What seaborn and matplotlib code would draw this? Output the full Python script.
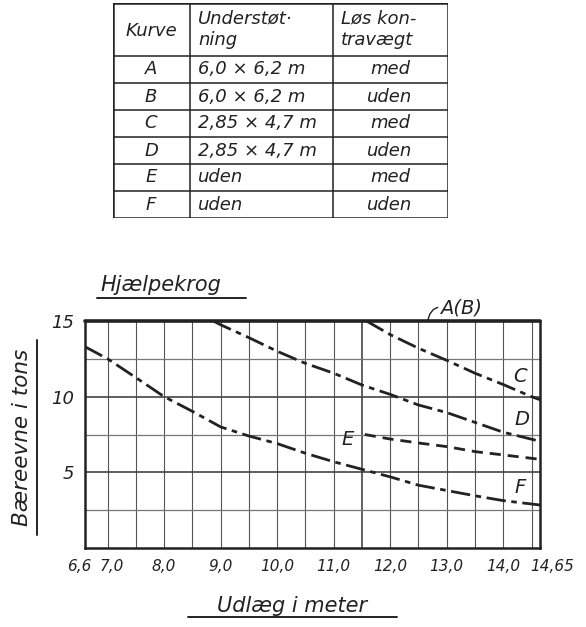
import pandas as pd
import matplotlib
matplotlib.use('Agg')
import matplotlib.pyplot as plt
import matplotlib.transforms as mtrans
import seaborn as sns
from matplotlib.lines import Line2D

# Kurver: udlæg (m) og bæreevne (t)
ab_x = [6.6, 14.65]
ab_y = [15.0, 15.0]
c_x = [11.58, 12.0, 12.5, 13.0, 13.5, 14.0, 14.5, 14.65]
c_y = [15.0, 14.1, 13.2, 12.4, 11.55, 10.8, 10.0, 9.8]
d_x = [8.87, 9.0, 9.5, 10.0, 10.5, 11.0, 11.5, 12.0, 12.5, 13.0, 13.5, 14.0, 14.65]
d_y = [15.0, 14.75, 13.9, 13.0, 12.2, 11.55, 10.77, 10.15, 9.45, 8.95, 8.3, 7.65, 7.05]
e_x = [11.55, 12.0, 12.5, 13.0, 13.5, 14.0, 14.65]
e_y = [7.5, 7.2, 6.94, 6.7, 6.37, 6.15, 5.86]
f_x = [6.6, 7.0, 7.5, 8.0, 8.5, 9.0, 9.5, 10.0, 10.5, 11.0, 11.5, 12.0, 12.5, 13.0, 13.5, 14.0, 14.65]
f_y = [13.3, 12.5, 11.26, 10.0, 9.03, 8.0, 7.4, 6.9, 6.26, 5.7, 5.2, 4.7, 4.15, 3.8, 3.45, 3.13, 2.84]

x_ticks = [6.6, 7.0, 8.0, 9.0, 10.0, 11.0, 12.0, 13.0, 14.0, 14.65]
x_labels = ['6,6', '7,0', '8,0', '9,0', '10,0', '11,0', '12,0', '13,0', '14,0', '14,65']
y_ticks = [5, 10, 15]
y_labels = ['5', '10', '15']

# Tabel
kurver = ['A', 'B', 'C', 'D', 'E', 'F']
understotning = ['6,0 × 6,2 m', '6,0 × 6,2 m', '2,85 × 4,7 m', '2,85 × 4,7 m', 'uden', 'uden']
kontravaegt = ['med', 'uden', 'med', 'uden', 'med', 'uden']

curves = {'A(B)': (ab_x, ab_y), 'C': (c_x, c_y), 'D': (d_x, d_y), 'E': (e_x, e_y), 'F': (f_x, f_y)}
df = pd.concat([pd.DataFrame({'udlaeg': x, 'baereevne': y, 'kurve': k}) for k, (x, y) in curves.items()],
               ignore_index=True)

sns.set_style('white')
plt.rcParams['font.family'] = ['DejaVu Sans']
ink = '#222222'
hand = dict(fontstyle='italic', color=ink)

fig = plt.figure(figsize=(5.86, 6.27), dpi=100)

# ---- diagram
ax = fig.add_axes([85 / 586, 1 - 548 / 627, 455 / 586, 227 / 627])
ax.set_xlim(6.6, 14.65)
ax.set_ylim(0, 15)

for xv in [7.0 + 0.5 * i for i in range(16)]:
    ax.axvline(xv, color='#555555', lw=1.3 if xv == 11.5 else 0.8, zorder=1)
for yv in [2.5, 5, 7.5, 10, 12.5]:
    ax.axhline(yv, color='#444444' if yv in (5, 10) else '#777777',
               lw=1.2 if yv in (5, 10) else 0.9, zorder=1)

dashes = {'A(B)': '', 'C': (7, 2, 2, 2), 'D': (7, 2, 2, 2), 'E': (4, 2.5), 'F': (7, 2, 2, 2)}
sns.lineplot(data=df, x='udlaeg', y='baereevne', hue='kurve', style='kurve',
             palette={k: ink for k in curves}, dashes=dashes, linewidth=2.0,
             sort=False, estimator=None, legend=False, ax=ax, zorder=3)
ax.lines[-5].set_linewidth(2.6)
ax.lines[-5].set_clip_on(False)

for s in ['left', 'right', 'bottom']:
    ax.spines[s].set_linewidth(1.8)
    ax.spines[s].set_color(ink)
ax.spines['top'].set_visible(False)

ax.set_xticks(x_ticks)
ax.set_xticklabels(x_labels, fontsize=11, **hand)
ax.set_yticks(y_ticks)
ax.set_yticklabels(y_labels, fontsize=13, **hand)
ax.tick_params(length=0, pad=8)
ax.set_xlabel('')
ax.set_ylabel('')

# skub de tætte labels lidt fra hinanden
xl = ax.get_xticklabels()
xl[0].set_transform(xl[0].get_transform() + mtrans.ScaledTranslation(-4 / 72, 0, fig.dpi_scale_trans))
xl[1].set_transform(xl[1].get_transform() + mtrans.ScaledTranslation(3 / 72, 0, fig.dpi_scale_trans))
xl[-1].set_horizontalalignment('left')
xl[-1].set_transform(xl[-1].get_transform() + mtrans.ScaledTranslation(-7 / 72, 0, fig.dpi_scale_trans))

ax.text(14.3, 11.3, 'C', fontsize=14, ha='center', va='center', **hand)
ax.text(14.33, 8.5, 'D', fontsize=14, ha='center', va='center', **hand)
ax.text(11.25, 7.15, 'E', fontsize=14, ha='center', va='center', **hand)
ax.text(14.3, 4.0, 'F', fontsize=14, ha='center', va='center', **hand)
ax.text(12.88, 15.85, 'A(B)', fontsize=14, ha='left', va='center', **hand)
ax.plot([12.66, 12.7, 12.76, 12.84], [15.0, 15.45, 15.75, 15.9], color=ink, lw=1.0, clip_on=False)

fig.text(100 / 586, 1 - 285 / 627, 'Hjælpekrog', fontsize=15, ha='left', va='center', **hand)
fig.add_artist(Line2D([97 / 586, 246 / 586], [1 - 298 / 627, 1 - 298 / 627], color=ink, lw=1.4))
fig.text(292 / 586, 1 - 606 / 627, 'Udlæg i meter', fontsize=15, ha='center', va='center', **hand)
fig.add_artist(Line2D([188 / 586, 397 / 586], [1 - 617 / 627, 1 - 617 / 627], color=ink, lw=1.4))
fig.text(22 / 586, 1 - 437 / 627, 'Bæreevne i tons', fontsize=15.5, rotation=90, ha='center', va='center', **hand)
fig.add_artist(Line2D([37 / 586, 37 / 586], [1 - 340 / 627, 1 - 535 / 627], color=ink, lw=1.4))

# ---- tabel
tx = fig.add_axes([113 / 586, 1 - 218 / 627, 335 / 586, 215 / 627])
tx.set_xlim(0, 335)
tx.set_ylim(215, 0)
tx.axis('off')
col_edges = [0, 77, 220, 335]
row_edges = [0, 53] + [53 + 27 * (i + 1) for i in range(len(kurver))]
for i, y in enumerate(row_edges):
    outer = i in (0, len(row_edges) - 1)
    tx.plot([0, 335], [y, y], color=ink, lw=1.8 if outer else 1.1, solid_capstyle='projecting')
for j, x in enumerate(col_edges):
    outer = j in (0, len(col_edges) - 1)
    tx.plot([x, x], [0, row_edges[-1]], color=ink, lw=1.8 if outer else 1.1, solid_capstyle='projecting')

tx.text(38, 28, 'Kurve', fontsize=13, ha='center', va='center', **hand)
tx.text(85, 15, 'Understøt·', fontsize=13, ha='left', va='center', **hand)
tx.text(85, 37, 'ning', fontsize=13, ha='left', va='center', **hand)
tx.text(228, 15, 'Løs kon-', fontsize=13, ha='left', va='center', **hand)
tx.text(228, 37, 'travægt', fontsize=13, ha='left', va='center', **hand)
for i, (k, u, m) in enumerate(zip(kurver, understotning, kontravaegt)):
    yc = 53 + 27 * i + 13.5
    tx.text(38, yc, k, fontsize=13, ha='center', va='center', **hand)
    tx.text(85, yc, u, fontsize=13, ha='left', va='center', **hand)
    tx.text(277, yc, m, fontsize=13, ha='center', va='center', **hand)

fig.savefig('out.png', dpi=100, facecolor='white')
